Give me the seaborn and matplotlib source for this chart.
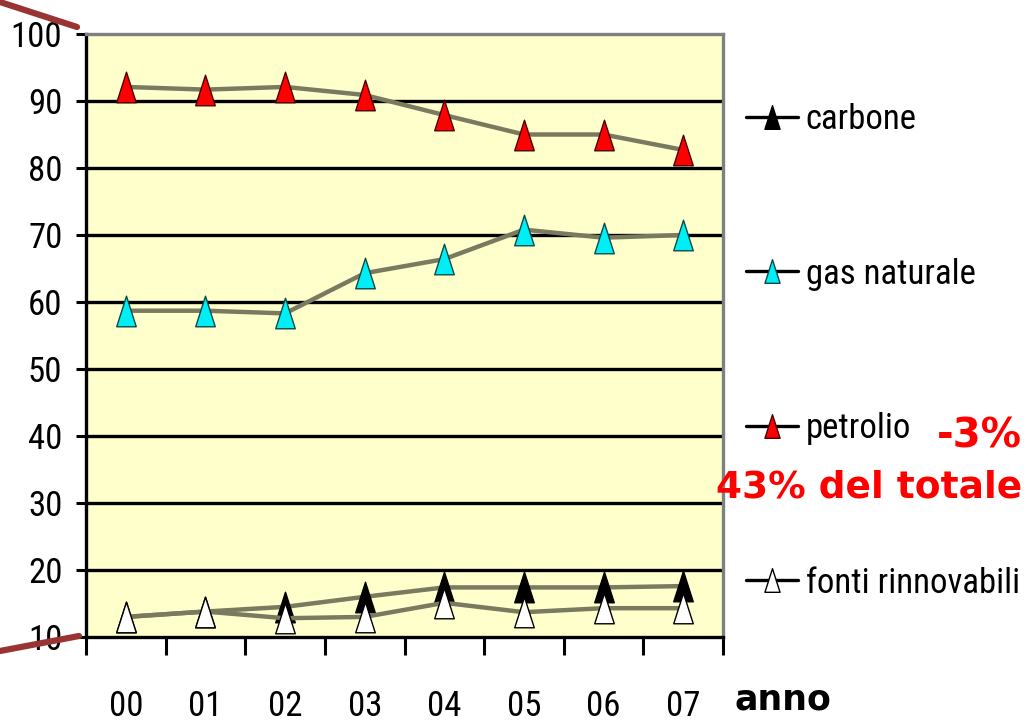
import numpy as np
import pandas as pd
import matplotlib
matplotlib.use("Agg")
import matplotlib.pyplot as plt
from matplotlib.path import Path
from matplotlib.lines import Line2D
import seaborn as sns

# --- data -------------------------------------------------------------
anni = ["00", "01", "02", "03", "04", "05", "06", "07"]
carbone = [13.0, 13.8, 14.5, 16.0, 17.4, 17.4, 17.4, 17.6]
gas_naturale = [58.7, 58.7, 58.3, 64.3, 66.4, 70.8, 69.6, 70.0]
petrolio = [92.1, 91.7, 92.1, 90.9, 87.9, 85.0, 85.0, 82.7]
fonti_rinnovabili = [13.0, 13.8, 12.8, 13.0, 15.1, 13.7, 14.3, 14.3]

serie = ["carbone", "gas naturale", "petrolio", "fonti rinnovabili"]
valori = [carbone, gas_naturale, petrolio, fonti_rinnovabili]
colori = ["#000000", "#00EEF5", "#FF0000", "#FFFFFF"]
bordi = ["#000000", "#0B4A4A", "#4A0000", "#000000"]

y_ticks = list(range(10, 101, 10))

df = pd.DataFrame({
    "anno": np.tile(np.arange(len(anni)), len(serie)),
    "fonte": np.repeat(serie, len(anni)),
    "valore": np.concatenate(valori),
})

# --- style ------------------------------------------------------------
sns.set_style("white")
narrow = ["Roboto Condensed", "Liberation Sans Narrow", "Liberation Sans",
          "DejaVu Sans"]
plt.rcParams["font.family"] = narrow
plt.rcParams["text.color"] = "black"
plt.rcParams["xtick.color"] = "black"
plt.rcParams["ytick.color"] = "black"
plt.rcParams["axes.labelcolor"] = "black"

# tall, narrow triangle marker
tri = Path([(0, 0.5), (-0.32, -0.5), (0.32, -0.5), (0, 0.5)],
           [Path.MOVETO, Path.LINETO, Path.LINETO, Path.CLOSEPOLY])

fig = plt.figure(figsize=(10.3, 7.25), dpi=100)
ax = fig.add_axes([86 / 1030, 1 - 637 / 725, (723 - 86) / 1030, (637 - 34) / 725])
ax.set_facecolor("#FFFFCC")

ax.set_ylim(y_ticks[0], y_ticks[-1])
ax.set_xlim(-0.5, len(anni) - 0.5)

# horizontal gridlines
for v in y_ticks[1:-1]:
    ax.axhline(v, color="black", lw=2.4, zorder=1)

for i, nome in enumerate(serie):
    sub = df[df["fonte"] == nome]
    sns.lineplot(data=sub, x="anno", y="valore", ax=ax, color="#7A7A60",
                 lw=3.2, marker=tri, markersize=22, markerfacecolor=colori[i],
                 markeredgecolor=bordi[i], markeredgewidth=1.0,
                 legend=False, zorder=3 + i)

# axes frame
for s in ["left", "bottom"]:
    ax.spines[s].set_color("black")
    ax.spines[s].set_linewidth(2.4)
for s in ["top", "right"]:
    ax.spines[s].set_color("#808080")
    ax.spines[s].set_linewidth(2.4)

ax.set_yticks(y_ticks)
ax.set_yticklabels([str(v) for v in y_ticks])
ax.tick_params(axis="y", length=7, width=2.2, color="black", pad=10,
               labelsize=25, left=True, labelcolor="black")

ax.set_xticks(np.arange(-0.5, len(anni), 1.0))
ax.set_xticklabels([])
ax.set_xticks(np.arange(len(anni)), minor=True)
ax.set_xticklabels(anni, minor=True)
ax.tick_params(axis="x", which="major", length=13, width=2.2, color="black",
               bottom=True, direction="out")
ax.tick_params(axis="x", which="minor", length=0, pad=38, labelsize=25,
               labelcolor="black")
ax.set_xlabel("")
ax.set_ylabel("")

# legend
handles = [Line2D([], [], color="black", lw=2.4, marker=tri, markersize=17,
                  markerfacecolor=colori[i], markeredgecolor=bordi[i],
                  markeredgewidth=1.0) for i in range(len(serie))]
leg = fig.legend(handles, serie, loc="upper left",
                 bbox_to_anchor=(746 / 1030, 1 - 103 / 725), frameon=False,
                 fontsize=25, labelspacing=3.5, handlelength=1.5,
                 handletextpad=0.22, borderpad=0, borderaxespad=0)
for t in leg.get_texts():
    t.set_color("black")

# annotations
bold = ["DejaVu Sans"]
fig.text(1022 / 1030, 1 - 436 / 725, "-3%", color="#FF0000", fontsize=29,
         fontweight="bold", family=bold, ha="right", va="center")
fig.text(1022 / 1030, 1 - 488 / 725, "43% del totale", color="#FF0000",
         fontsize=27, fontweight="bold", family=bold, ha="right", va="center")
fig.text(783 / 1030, 1 - 700 / 725, "anno", color="black", fontsize=25,
         fontweight="bold", family=bold, ha="center", va="center")

# slanted dark-red strokes at the frame corners
fig.add_artist(Line2D([0, 77 / 1030], [1 - 2 / 725, 1 - 27 / 725],
                      transform=fig.transFigure, color="#9A3434", lw=4.5))
fig.add_artist(Line2D([0, 79 / 1030], [1 - 651 / 725, 1 - 636 / 725],
                      transform=fig.transFigure, color="#9A3434", lw=4.5))

fig.savefig("out.png", dpi=100, facecolor="white")
